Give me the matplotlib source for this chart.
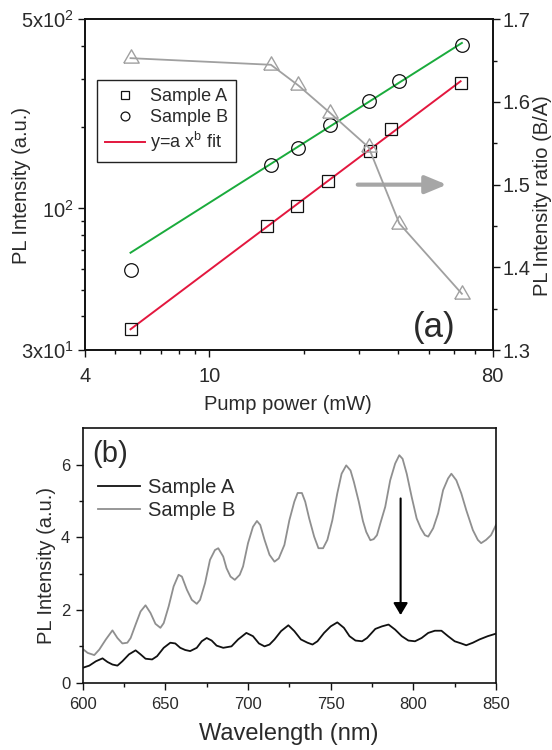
import numpy as np
import matplotlib
matplotlib.use('Agg')
import matplotlib.pyplot as plt
from matplotlib.ticker import FixedLocator, FixedFormatter, NullFormatter

# ---------------- data: panel (a) ----------------
power_A = [5.6, 15.3, 19.0, 23.9, 32.5, 37.8, 63.2]
pl_A = [35.8, 86.1, 102.4, 126.6, 163, 196, 291]
power_B = [5.6, 15.7, 19.2, 24.2, 32.2, 40.3, 63.8]
pl_B = [59.3, 144.8, 167.7, 203.4, 250, 296.5, 401.7]
ratio_BA = [1.653, 1.645, 1.620, 1.587, 1.545, 1.453, 1.368]

xticks_a = [4, 10, 80]
xticklabels_a = ['4', '10', '80']
yticks_a = [30, 100, 500]
yticklabels_a = ['3x10$^1$', '10$^2$', '5x10$^2$']
rticks_a = [1.3, 1.4, 1.5, 1.6, 1.7]

# ---------------- data: panel (b) ----------------
wl_A = [600, 604, 608, 612, 615, 618, 621, 624, 628, 632, 635, 638, 642, 645, 649,
        653, 656, 659, 662, 665, 669, 672, 675, 678, 681, 685, 690, 694, 699, 703,
        706.6, 710, 713, 716, 720, 724.4, 728, 732, 736, 739, 742, 746, 750, 754,
        758, 761.4, 765, 769, 772, 777, 781, 785, 789, 793, 797, 801, 805, 809,
        813, 817, 821, 825, 829, 832, 836, 840, 845, 850]
int_A = [0.41, 0.47, 0.59, 0.67, 0.57, 0.50, 0.47, 0.59, 0.78, 0.89, 0.78, 0.66, 0.64,
         0.73, 0.96, 1.10, 1.08, 0.96, 0.90, 0.87, 0.96, 1.14, 1.23, 1.16, 1.02, 0.96,
         1.00, 1.19, 1.37, 1.28, 1.08, 1.00, 1.05, 1.19, 1.42, 1.58, 1.42, 1.19, 1.10,
         1.05, 1.14, 1.37, 1.55, 1.66, 1.51, 1.28, 1.16, 1.14, 1.23, 1.48, 1.55, 1.60,
         1.46, 1.28, 1.16, 1.14, 1.23, 1.37, 1.43, 1.43, 1.28, 1.14, 1.08, 1.03, 1.10,
         1.19, 1.28, 1.35]

wl_B = [600, 603, 607, 610, 614, 618, 621, 624, 627, 629, 632, 635, 638, 641, 644, 647,
        649, 652, 655, 658, 660, 663, 666, 669, 671, 674, 677, 680, 682, 685, 687, 689.4,
        692, 695, 697, 700, 703, 705.4, 707.4, 710, 713, 716, 718.6, 722, 725, 728, 730,
        732.6, 734.6, 737, 740, 742.6, 745.4, 748, 751, 754, 756.6, 759.4, 762, 764, 767,
        769.5, 771.5, 774, 776, 778, 780, 783, 786, 789, 791.5, 793.5, 796, 799, 802,
        804.5, 807, 809, 812, 815, 818, 821, 823, 826, 829, 832, 836, 839, 841, 844, 847,
        850]
int_B = [0.93, 0.82, 0.76, 0.91, 1.19, 1.44, 1.23, 1.08, 1.10, 1.23, 1.60, 1.96, 2.13,
         1.92, 1.62, 1.51, 1.64, 2.10, 2.65, 2.97, 2.92, 2.56, 2.28, 2.17, 2.28, 2.74,
         3.38, 3.65, 3.70, 3.47, 3.15, 2.92, 2.83, 2.97, 3.20, 3.84, 4.29, 4.45, 4.34,
         3.93, 3.52, 3.33, 3.42, 3.79, 4.47, 4.98, 5.22, 5.22, 4.98, 4.52, 4.02, 3.70,
         3.70, 3.93, 4.47, 5.21, 5.75, 5.98, 5.84, 5.53, 4.98, 4.45, 4.15, 3.92, 3.95,
         4.06, 4.38, 4.84, 5.57, 6.03, 6.26, 6.16, 5.75, 5.11, 4.52, 4.25, 4.06, 4.02,
         4.25, 4.66, 5.30, 5.62, 5.75, 5.57, 5.21, 4.75, 4.20, 3.93, 3.84, 3.93, 4.06,
         4.34]

xticks_b = [600, 650, 700, 750, 800, 850]
yticks_b = [0, 2, 4, 6]

# ---------------- style ----------------
plt.rcParams['font.family'] = ['Liberation Sans', 'DejaVu Sans']
plt.rcParams['mathtext.fontset'] = 'custom'
plt.rcParams['mathtext.rm'] = 'Liberation Sans'
plt.rcParams['mathtext.it'] = 'Liberation Sans:italic'
plt.rcParams['mathtext.bf'] = 'Liberation Sans:bold'
plt.rcParams['mathtext.default'] = 'regular'

TXT = '#2a2a2a'
W, H = 552, 750
fig = plt.figure(figsize=(W / 100, H / 100), dpi=100)


def px_rect(l, t, r, b):
    return [l / W, 1 - b / H, (r - l) / W, (b - t) / H]


def style_axes(ax, size):
    for s in ax.spines.values():
        s.set_linewidth(1.2)
        s.set_color('#111111')
    ax.tick_params(which='both', direction='out', width=1.0, color='#111111',
                   labelsize=size, labelcolor=TXT)
    ax.tick_params(which='major', length=5)
    ax.tick_params(which='minor', length=3)


# ================= panel (a) =================
ax1 = fig.add_axes(px_rect(84.7, 19.3, 492.7, 350))
ax1.set_xscale('log')
ax1.set_yscale('log')
ax1.set_xlim(4, 80)
ax1.set_ylim(30, 500)
ax1.xaxis.set_major_locator(FixedLocator(xticks_a))
ax1.xaxis.set_major_formatter(FixedFormatter(xticklabels_a))
ax1.xaxis.set_minor_locator(FixedLocator([5, 6, 7, 8, 9, 20, 30, 40, 50, 60, 70]))
ax1.xaxis.set_minor_formatter(NullFormatter())
ax1.yaxis.set_major_locator(FixedLocator(yticks_a))
ax1.yaxis.set_major_formatter(FixedFormatter(yticklabels_a))
ax1.yaxis.set_minor_locator(FixedLocator([40, 50, 60, 70, 80, 90, 200, 300, 400]))
ax1.yaxis.set_minor_formatter(NullFormatter())
style_axes(ax1, 14.5)
ax1.tick_params(axis='x', which='both', pad=7)
ax1.tick_params(axis='y', which='both', pad=3)

# power-law fits  y = a x^b
pA = np.polyfit(np.log10(power_A), np.log10(pl_A), 1)
pB = np.polyfit(np.log10(power_B[1:]), np.log10(pl_B[1:]), 1)
xa = np.array([power_A[0], power_A[-1]])
xb = np.array([power_B[0], power_B[-1]])
fitA, = ax1.plot(xa, 10 ** np.polyval(pA, np.log10(xa)), color='#e3173e', lw=1.4, zorder=2)
ax1.plot(xb, 10 ** np.polyval(pB, np.log10(xb)), color='#1aab3c', lw=1.4, zorder=2)

sqA, = ax1.plot(power_A, pl_A, ls='none', marker='s', ms=9.2, mfc='none',
                mec='#111111', mew=0.9, zorder=3)
cirB, = ax1.plot(power_B, pl_B, ls='none', marker='o', ms=9.8, mfc='none',
                 mec='#111111', mew=0.9, zorder=3)

leg = ax1.legend([sqA, cirB, fitA], ['Sample A', 'Sample B', 'y=a x$^b$ fit'],
                 loc='upper left', bbox_to_anchor=(0.0294, 0.8165), borderaxespad=0,
                 fontsize=13, handlelength=2.2, handletextpad=0.3, borderpad=0.45,
                 labelspacing=0.22, markerscale=0.65, fancybox=False, framealpha=1)
leg.get_frame().set_edgecolor('#222222')
leg.get_frame().set_linewidth(1.0)
for t in leg.get_texts():
    t.set_color(TXT)

ax1r = ax1.twinx()
ax1r.set_ylim(1.3, 1.7)
ax1r.yaxis.set_major_locator(FixedLocator(rticks_a))
ax1r.yaxis.set_minor_locator(FixedLocator([1.35, 1.45, 1.55, 1.65]))
ax1r.yaxis.set_major_formatter(FixedFormatter([f'{v:.1f}' for v in rticks_a]))
style_axes(ax1r, 14.5)
ax1r.tick_params(axis='y', which='both', pad=2)
tri = [(-1, -0.6), (1, -0.6), (0, 1.13), (-1, -0.6)]
ax1r.plot(power_B, ratio_BA, color='#a0a0a0', lw=1.3, marker=tri, ms=12.5,
          mfc='none', mec='#a0a0a0', mew=1.0, zorder=4)
ax1r.annotate('', xy=(57.1, 1.5), xytext=(29.7, 1.5),
              arrowprops=dict(arrowstyle='-|>,head_length=0.65,head_width=0.27',
                              mutation_scale=20, lw=3.0, color='#a6a6a6',
                              shrinkA=0, shrinkB=0))

fig.text(434 / W, 1 - 328 / H, '(a)', fontsize=25, color=TXT, ha='center', va='center')
fig.text(287.5 / W, 1 - 405 / H, 'Pump power (mW)', fontsize=14.5, color=TXT,
         ha='center', va='center')
fig.text(22 / W, 1 - 185 / H, 'PL Intensity (a.u.)', fontsize=14.5, color=TXT,
         ha='center', va='center', rotation=90)
fig.text(542 / W, 1 - 196 / H, 'PL Intensity ratio (B/A)', fontsize=14.5, color=TXT,
         ha='center', va='center', rotation=90)

# ================= panel (b) =================
ax2 = fig.add_axes(px_rect(82.7, 428.3, 496, 682.7))
ax2.set_xlim(600, 850)
ax2.set_ylim(0, 7)
ax2.xaxis.set_major_locator(FixedLocator(xticks_b))
ax2.xaxis.set_minor_locator(FixedLocator([625, 675, 725, 775, 825]))
ax2.yaxis.set_major_locator(FixedLocator(yticks_b))
ax2.yaxis.set_minor_locator(FixedLocator([1, 3, 5]))
style_axes(ax2, 12)
ax2.tick_params(axis='x', which='both', pad=5)
ax2.tick_params(axis='y', which='both', pad=4)

lA, = ax2.plot(wl_A, int_A, color='#111111', lw=1.3)
lB, = ax2.plot(wl_B, int_B, color='#8f8f8f', lw=1.3)
leg2 = ax2.legend([lA, lB], ['Sample A', 'Sample B'], loc='upper left',
                  bbox_to_anchor=(0.0363, 0.8046), borderaxespad=0, frameon=False,
                  borderpad=0, fontsize=14.5, handlelength=2.1, handletextpad=0.38,
                  labelspacing=0.2)
for t in leg2.get_texts():
    t.set_color(TXT)

ax2.annotate('', xy=(792.3, 1.86), xytext=(792.3, 5.07),
             arrowprops=dict(arrowstyle='-|>,head_length=0.72,head_width=0.43',
                             mutation_scale=10, lw=1.5, color='black',
                             shrinkA=0, shrinkB=0))

fig.text(110.5 / W, 1 - 454.5 / H, '(b)', fontsize=21, color=TXT, ha='center', va='center')
fig.text(289 / W, 1 - 734 / H, 'Wavelength (nm)', fontsize=17, color=TXT,
         ha='center', va='center')
fig.text(46.5 / W, 1 - 566 / H, 'PL Intensity (a.u.)', fontsize=14.5, color=TXT,
         ha='center', va='center', rotation=90)

fig.savefig('out.png', dpi=100)
